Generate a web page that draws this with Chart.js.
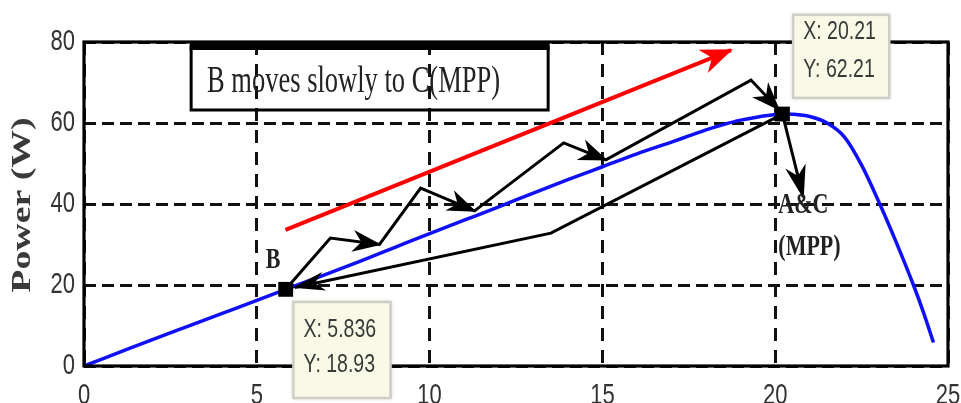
<!DOCTYPE html>
<html>
<head>
<meta charset="utf-8">
<script src="https://cdn.jsdelivr.net/npm/chart.js@4.4.1/dist/chart.umd.min.js"></script>
<style>
  html, body { margin: 0; padding: 0; background: #ffffff; }
  canvas { display: block; }
</style>
</head>
<body>
<canvas id="pv" width="961" height="403"></canvas>
<script>
// P-V characteristic of the PV panel: voltage (V) and power (W)
const voltage = [0, 1, 2, 3, 4, 5, 5.836, 7, 8, 9, 10, 11, 12, 13, 14, 15, 16, 17, 17.5, 18, 18.5, 19, 19.5, 20, 20.21, 20.5, 21, 21.5, 22, 22.5, 23, 23.5, 24, 24.3, 24.58];
const power   = [0, 3.3, 6.6, 9.8, 13.0, 16.2, 18.93, 22.6, 25.9, 29.3, 32.7, 36.0, 39.3, 42.7, 46.0, 49.2, 52.4, 55.3, 56.8, 58.3, 59.6, 60.7, 61.5, 62.1, 62.21, 62.15, 61.6, 60.0, 56.6, 49.6, 40.5, 30.6, 20.0, 13.0, 5.8];

// Operating points with data tips
const pointB   = { x: 5.836, y: 18.93 };
const pointMPP = { x: 20.21, y: 62.21 };

// Red trend arrow (B drifting towards the MPP)
const trendX = [5.83, 18.72];
const trendY = [33.6, 78.0];

// Zig-zag tracking path from B up to the MPP
const searchX = [5.836, 7.13, 8.55, 9.74, 11.3, 13.88, 15.1, 19.3, 20.1];
const searchY = [18.93, 31.6, 30.0, 43.9, 38.3, 55.1, 50.9, 70.6, 63.4];

// Return path from the MPP back to B
const returnX = [20.21, 13.51, 6.1];
const returnY = [62.21, 32.8, 19.4];

// Drop from the MPP towards A&C
const dropX = [20.21, 20.81];
const dropY = [62.21, 41.7];

// Axis ticks
const xTicks = [0, 5, 10, 15, 20, 25];
const yTicks = [0, 20, 40, 60, 80];

const toPoints = (xs, ys) => xs.map((x, i) => ({ x: x, y: ys[i] }));

// Annotation layout, in axis units
const annot = {
  note:   { x0: 3.10, x1: 13.43, y0: 79.0, y1: 63.2, tx: 3.56, ty: 67.65, text: 'B moves slowly to C(MPP)' },
  labelB: { x: 5.47, y: 26.2, text: 'B' },
  labelA: { x: 20.09, y: 39.75, text: 'A&C' },
  labelM: { x: 20.09, y: 29.4, text: '(MPP)' },
  tipMPP: { x0: 20.52, x1: 23.30, y0: 86.7, y1: 66.2, tx: 20.81, ty: [82.5, 73.1], pt: pointMPP },
  tipB:   { x0: 6.06, x1: 8.87, y0: 15.8, y1: -7.9, tx: 6.35, ty: [8.9, 0.25], pt: pointB }
};

// Arrowheads placed at the end of selected path points
const heads = [
  { ds: 1, idx: [1], len: 30, wid: 25, color: '#ff0000' },
  { ds: 2, idx: [2, 4, 6, 8], len: 27, wid: 22, color: '#000000' },
  { ds: 3, idx: [2], len: 30, wid: 19, color: '#000000' },
  { ds: 4, idx: [1], len: 32, wid: 21, color: '#000000' }
];

function stretchText(ctx, text, x, y, font, sy, align, baseline, color) {
  ctx.save();
  ctx.translate(x, y);
  ctx.scale(1, sy);
  ctx.font = font;
  ctx.textAlign = align;
  ctx.textBaseline = baseline;
  ctx.fillStyle = color;
  ctx.fillText(text, 0, 0);
  ctx.restore();
}

function drawHead(ctx, p0, p1, len, wid, color) {
  const a = Math.atan2(p1.y - p0.y, p1.x - p0.x);
  ctx.save();
  ctx.translate(p1.x, p1.y);
  ctx.rotate(a);
  ctx.beginPath();
  ctx.moveTo(2, 0);
  ctx.lineTo(-len, -wid / 2);
  ctx.lineTo(-len * 0.68, 0);
  ctx.lineTo(-len, wid / 2);
  ctx.closePath();
  ctx.fillStyle = color;
  ctx.fill();
  ctx.restore();
}

const decorations = {
  id: 'decorations',
  beforeDraw(chart) {
    const ctx = chart.ctx;
    ctx.save();
    ctx.fillStyle = '#ffffff';
    ctx.fillRect(0, 0, chart.width, chart.height);
    ctx.restore();
  },
  afterDatasetsDraw(chart) {
    const ctx = chart.ctx;
    const xs = chart.scales.x, ys = chart.scales.y;
    const a = chart.chartArea;
    const X = v => xs.getPixelForValue(v);
    const Y = v => ys.getPixelForValue(v);

    // arrowheads
    heads.forEach(h => {
      const els = chart.getDatasetMeta(h.ds).data;
      h.idx.forEach(i => drawHead(ctx, els[i - 1], els[i], h.len, h.wid, h.color));
    });

    // axes box
    ctx.save();
    ctx.strokeStyle = '#000000';
    ctx.lineWidth = 3.2;
    ctx.strokeRect(a.left, a.top, a.right - a.left, a.bottom - a.top);
    ctx.restore();

    // tick labels
    const tickFont = '22px "Liberation Sans", Arial, sans-serif';
    xTicks.forEach(v => {
      stretchText(ctx, String(v), X(v), a.bottom + 16 + 15.8 * 1.37, tickFont, 1.37, 'center', 'alphabetic', '#333333');
    });
    yTicks.forEach(v => {
      stretchText(ctx, String(v), a.left - 9, Y(v), tickFont, 1.37, 'right', 'middle', '#333333');
    });

    // y axis title
    ctx.save();
    ctx.translate(23, 205);
    ctx.rotate(-Math.PI / 2);
    ctx.scale(1.4, 1);
    ctx.font = 'bold 27px "Liberation Serif", "Times New Roman", serif';
    ctx.textAlign = 'center';
    ctx.textBaseline = 'middle';
    ctx.fillStyle = '#3a3a3a';
    ctx.fillText('Power (W)', 0, 0);
    ctx.restore();

    // note box
    const n = annot.note;
    ctx.save();
    ctx.strokeStyle = '#000000';
    ctx.lineWidth = 3;
    ctx.beginPath();
    ctx.moveTo(X(n.x0), Y(n.y0));
    ctx.lineTo(X(n.x0), Y(n.y1));
    ctx.lineTo(X(n.x1), Y(n.y1));
    ctx.lineTo(X(n.x1), Y(n.y0));
    ctx.stroke();
    ctx.lineWidth = 8;
    ctx.beginPath();
    ctx.moveTo(X(n.x0) - 1.5, Y(n.y0));
    ctx.lineTo(X(n.x1) + 1.5, Y(n.y0));
    ctx.stroke();
    ctx.restore();
    stretchText(ctx, n.text, X(n.tx), Y(n.ty), '26.5px "Liberation Serif", "Times New Roman", serif', 1.4, 'left', 'alphabetic', '#222222');

    // point labels
    const boldSerif = 'bold 22px "Liberation Serif", "Times New Roman", serif';
    stretchText(ctx, annot.labelB.text, X(annot.labelB.x), Y(annot.labelB.y), boldSerif, 1.37, 'center', 'middle', '#222222');
    stretchText(ctx, annot.labelA.text, X(annot.labelA.x), Y(annot.labelA.y), boldSerif, 1.37, 'left', 'middle', '#222222');
    stretchText(ctx, annot.labelM.text, X(annot.labelM.x), Y(annot.labelM.y), boldSerif, 1.37, 'left', 'middle', '#222222');

    // data tips
    [annot.tipMPP, annot.tipB].forEach(t => {
      const x0 = X(t.x0), x1 = X(t.x1), y0 = Y(t.y0), y1 = Y(t.y1);
      ctx.save();
      ctx.shadowColor = 'rgba(120,120,110,0.45)';
      ctx.shadowBlur = 4;
      ctx.fillStyle = '#f9f9e8';
      ctx.fillRect(x0, y0, x1 - x0, y1 - y0);
      ctx.shadowBlur = 0;
      ctx.strokeStyle = '#cfcfc6';
      ctx.lineWidth = 2.5;
      ctx.strokeRect(x0, y0, x1 - x0, y1 - y0);
      ctx.restore();
      const tipFont = '19.5px "Liberation Sans", Arial, sans-serif';
      stretchText(ctx, 'X: ' + t.pt.x, X(t.tx), Y(t.ty[0]), tipFont, 1.3, 'left', 'middle', '#3a3a3a');
      stretchText(ctx, 'Y: ' + t.pt.y, X(t.tx), Y(t.ty[1]), tipFont, 1.3, 'left', 'middle', '#3a3a3a');
    });
  }
};

const axisCommon = {
  type: 'linear',
  ticks: { display: false },
  grid: { color: '#111111', lineWidth: 3, drawTicks: false },
  border: { display: false }
};

new Chart(document.getElementById('pv'), {
  type: 'scatter',
  data: {
    datasets: [
      { data: toPoints(voltage, power), showLine: true, borderColor: '#1010f8', borderWidth: 3.5, pointRadius: 0, cubicInterpolationMode: 'monotone', order: 4 },
      { data: toPoints(trendX, trendY), showLine: true, borderColor: '#ff0000', borderWidth: 4, pointRadius: 0, order: 3 },
      { data: toPoints(searchX, searchY), showLine: true, borderColor: '#000000', borderWidth: 3, pointRadius: 0, borderJoinStyle: 'miter', order: 2 },
      { data: toPoints(returnX, returnY), showLine: true, borderColor: '#000000', borderWidth: 3, pointRadius: 0, order: 2 },
      { data: toPoints(dropX, dropY), showLine: true, borderColor: '#000000', borderWidth: 3, pointRadius: 0, order: 2 },
      { data: [pointB, pointMPP], showLine: false, pointStyle: 'rect', pointRadius: 10.5, backgroundColor: '#000000', borderColor: '#000000', borderWidth: 0, order: 0 }
    ]
  },
  options: {
    responsive: false,
    animation: false,
    devicePixelRatio: 1,
    layout: { padding: { left: 84, right: 13, top: 42, bottom: 37 } },
    plugins: { legend: { display: false }, tooltip: { enabled: false } },
    events: [],
    scales: {
      x: Object.assign({}, axisCommon, {
        min: 0, max: 25,
        afterBuildTicks: s => { s.ticks = xTicks.map(v => ({ value: v })); },
        border: { display: false, dash: [13, 9] }
      }),
      y: Object.assign({}, axisCommon, {
        min: 0, max: 80,
        afterBuildTicks: s => { s.ticks = yTicks.map(v => ({ value: v })); },
        border: { display: false, dash: [12, 6] }
      })
    }
  },
  plugins: [decorations]
});
</script>
</body>
</html>
